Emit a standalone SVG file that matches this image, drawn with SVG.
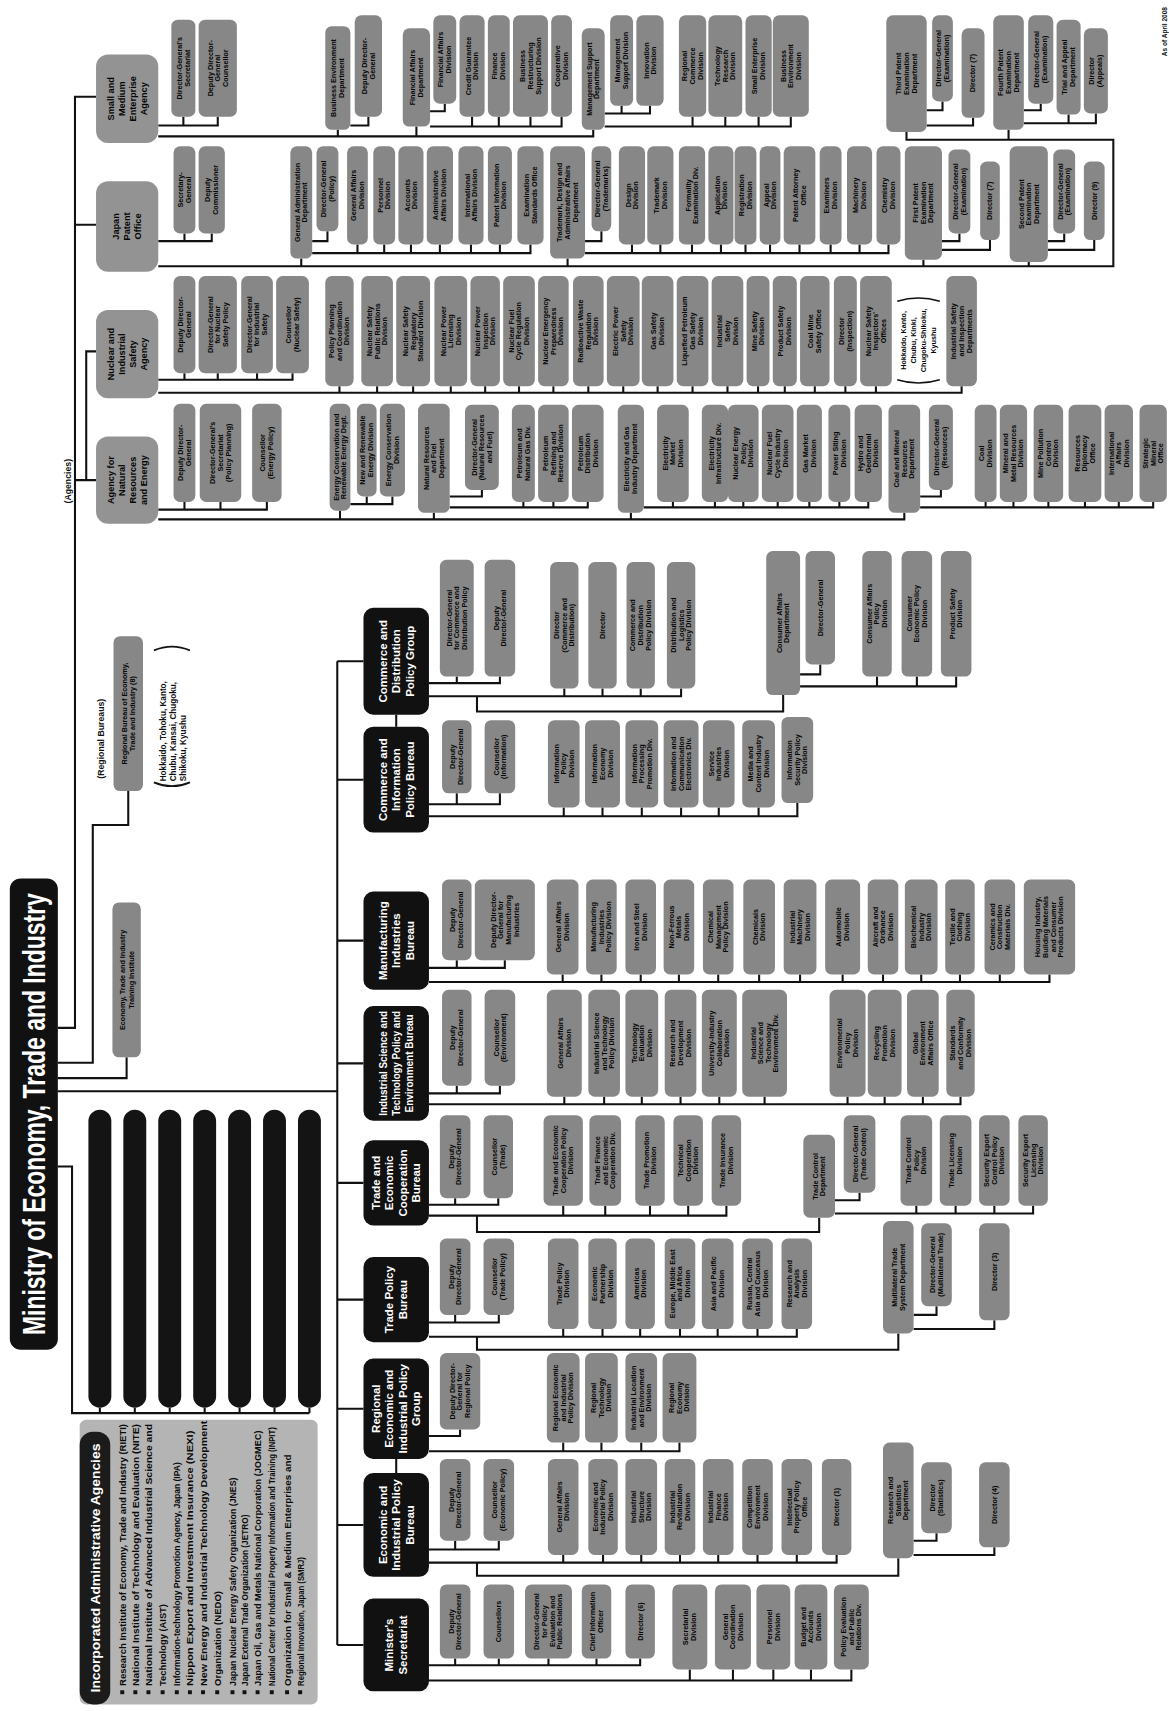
<svg xmlns="http://www.w3.org/2000/svg" width="1169" height="1711" viewBox="0 0 1169 1711">
<style>
.ln{fill:none;stroke:#111;stroke-width:1.9}
.gb{fill:#878787;rx:6px}
.ab{fill:#939393;rx:11px}
.bb{fill:#111;rx:9px}
.pill{fill:#141414;rx:10.5px}
text{font-family:"Liberation Sans Narrow","Liberation Sans",Arial,sans-serif;font-weight:bold}
.t{font-size:6.6px;fill:#050505;text-anchor:middle}
.ta{font-size:8.4px;fill:#050505;text-anchor:middle}
.tb{font-size:10.5px;fill:#fff;text-anchor:middle}
.ti{font-size:9px;fill:#0a0a0a}
</style>
<rect width="1169" height="1711" fill="#fff"/>
<g transform="scale(1.0915 1.0912)">

<g id="connectors" class="ln">
<path d="M53,942 H68.7 V88.6 H88 M68.7,206 H88 M68.7,440 H88 M79,440 V322 H88"/>
<path d="M53,974 H85 V756 H117.5 V725 M53,988 H116 V969 M53,1000 H309 M309,606 V1507.5"/>
<path d="M309,606 H333 M309,714.5 H333 M309,862 H333 M309,974.5 H333 M309,1084 H333 M309,1191 H333 M309,1291 H333 M309,1397.5 H333 M309,1507.5 H333 M363,655 V666 M363,1337 V1350"/>
<path d="M53,1069 H66 V1295 H283.5 M91.5,1290 V1295 M123.5,1290 V1295 M155.5,1290 V1295 M187.5,1290 V1295 M219.5,1290 V1295 M251.5,1290 V1295 M283.5,1290 V1295"/>
<path d="M145,115 H199.5 V107 M168,107 V115 M145,125 H543.5 V119 M309.5,119 V125 M381.5,116 V125 M321,115 H337.5 V107 M394,102 H407.5 V95 M394,116 H514.5 V107 M432.5,107 V116 M457,107 V116 M486,107 V116 M554,104 H595.5 V97 M569.5,97 V104 M554,116 H724.5 V107 M634.5,107 V116 M664.5,107 V116 M695,107 V116"/>
<path d="M145,221 H194 V214 M169,214 V221 M145,244 H1020 V128 H830.5 V121 M924,119 V128 M276,237 V244 M520,237 V244 M846,238 V244 M942.5,240 V244 M286,221 H300 V212 M286,232 H486 V224 M327.5,224 V232 M352,224 V232 M376.5,224 V232 M403,224 V232 M431.5,224 V232 M458,224 V232 M536,221 H551 V212 M536,232 H814 V224 M579,224 V232 M605,224 V232 M634,224 V232 M660.5,224 V232 M683,224 V232 M705.5,224 V232 M732.5,224 V232 M761,224 V232 M787.5,224 V232 M863,221 H879 V214 M863,229 H907 V220 M960,221 H975 V214 M960,229 H1002.5 V220 M849,101 H863.5 V93 M849,115 H891.5 V108 M938,101 H953.5 V95 M938,113 H1004 V104 M979,105 V113"/>
<path d="M145,348 H268 V342 M169,342 V348 M199.5,342 V348 M235.5,342 V348 M145,360 H881 V354 M311,354 V360 M345.5,354 V360 M378.5,354 V360 M413,354 V360 M444.5,354 V360 M475.5,354 V360 M507,354 V360 M539,354 V360 M571,354 V360 M602.5,354 V360 M634.5,354 V360 M666.5,354 V360 M694.5,354 V360 M719,354 V360 M746.5,354 V360 M774.5,354 V360 M802.5,354 V360"/>
<path d="M145,467 H244.5 V460 M169,460 V467 M202,460 V467 M145,476 H828.5 V470 M311.5,468 V476 M397.5,470 V476 M578,470 V476 M321,462 H359.5 V455 M336,455 V462 M412,455 H441.5 V449 M412,465 H538.5 V460 M479.5,460 V465 M507,460 V465 M590,465 H795.5 V460 M616.5,460 V465 M655,460 V465 M681,460 V465 M712.5,460 V465 M741.5,460 V465 M769,460 V465 M843,455 H862 V449 M843,465 H1056.5 V460 M903,460 V465 M928.5,460 V465 M960.5,460 V465 M994,460 V465 M1025,460 V465"/>
<path d="M393,626 H458 V620 M418.5,620 V626 M393,638 H624 V631 M517,631 V638 M552,631 V638 M587,631 V638 M437,638 V652 H717.5 V637 M733,618 H751.5 V609 M733,629 H876 V620 M803.5,620 V629 M840,620 V629"/>
<path d="M393,737 H458 V727 M418.5,727 V737 M393,748 H730.5 V736 M516.5,740 V748 M552,740 V748 M588,740 V748 M624,740 V748 M658.5,740 V748 M695,740 V748"/>
<path d="M393,887 H462.5 V880 M418.5,880 V887 M393,900 H961.5 V893 M515.5,893 V900 M551,893 V900 M587,893 V900 M622,893 V900 M658,893 V900 M695.5,893 V900 M733,893 V900 M772,893 V900 M809,893 V900 M844,893 V900 M879.5,893 V900 M916,893 V900"/>
<path d="M393,1002 H458 V995 M418.5,995 V1002 M393,1012 H880 V1005 M517,1005 V1012 M553.5,1005 V1012 M588,1005 V1012 M623.5,1005 V1012 M659,1005 V1012 M700.5,1005 V1012 M776.5,1005 V1012 M810.5,1005 V1012 M845.5,1005 V1012"/>
<path d="M393,1104 H456.5 V1098 M417,1098 V1104 M393,1114 H665.5 V1105 M516,1105 V1114 M554.5,1105 V1114 M595.5,1105 V1114 M630.5,1105 V1114 M437,1114 V1129 H750.5 V1116 M765,1100 H787.5 V1093 M765,1112 H946.5 V1105 M839.5,1105 V1112 M875.5,1105 V1112 M911,1105 V1112"/>
<path d="M393,1212 H457 V1205 M417,1205 V1212 M393,1225 H730 V1218 M516,1218 V1225 M552,1218 V1225 M586.5,1218 V1225 M623,1218 V1225 M657.5,1218 V1225 M694,1218 V1225 M437,1225 V1237 H823 V1222 M837,1205 H858 V1197 M837,1218 H911 V1210"/>
<path d="M393,1316 H421.5 V1310 M393,1330 H622.5 V1322 M516,1322 V1330 M551,1322 V1330 M587.5,1322 V1330"/>
<path d="M393,1420 H457 V1412 M417,1412 V1420 M393,1432 H766.5 V1425 M516,1425 V1432 M552.5,1425 V1432 M587.5,1425 V1432 M623,1425 V1432 M658,1425 V1432 M694,1425 V1432 M730,1425 V1432 M437,1432 V1444 H823 V1428 M837,1412 H858 V1405 M837,1425 H911 V1418"/>
<path d="M393,1526 H586.5 V1520 M417,1520 V1526 M457,1520 V1526 M502.5,1520 V1526 M546.5,1520 V1526 M393,1540 H780 V1530 M632,1530 V1540 M671.5,1530 V1540 M708.5,1530 V1540 M743,1530 V1540"/>
</g>

<g id="title"><rect x="9" y="805" width="44" height="432" rx="10" fill="#111"/><text transform="translate(31 1021) rotate(-90)" x="0" y="10" font-size="29" fill="#fff" text-anchor="middle" textLength="405" lengthAdjust="spacingAndGlyphs">Ministry of Economy, Trade and Industry</text></g>

<g id="officials">
<rect class="pill" x="81" y="1017" width="21" height="273"/>
<rect class="pill" x="113" y="1017" width="21" height="273"/>
<rect class="pill" x="145" y="1017" width="21" height="273"/>
<rect class="pill" x="177" y="1017" width="21" height="273"/>
<rect class="pill" x="209" y="1017" width="21" height="273"/>
<rect class="pill" x="241" y="1017" width="21" height="273"/>
<rect class="pill" x="273" y="1017" width="21" height="273"/>
</g>

<g id="iaa">
<rect x="73" y="1301" width="218" height="261" rx="6" fill="#b4b4b4"/>
<rect x="73" y="1312" width="28" height="250" rx="12" fill="#1b1b1b"/>
<text transform="translate(87 1437) rotate(-90)" y="4.5" font-size="12.5" fill="#fff" text-anchor="middle" textLength="228" lengthAdjust="spacingAndGlyphs">Incorporated Administrative Agencies</text>
<g fill="#111">
<rect x="110.2" y="1549" width="3.6" height="3.6"/><rect x="122.2" y="1549" width="3.6" height="3.6"/><rect x="134.2" y="1549" width="3.6" height="3.6"/><rect x="147.2" y="1549" width="3.6" height="3.6"/><rect x="160.2" y="1549" width="3.6" height="3.6"/><rect x="172.2" y="1549" width="3.6" height="3.6"/><rect x="184.2" y="1549" width="3.6" height="3.6"/><rect x="197.2" y="1549" width="3.6" height="3.6"/><rect x="211.2" y="1549" width="3.6" height="3.6"/><rect x="222.2" y="1549" width="3.6" height="3.6"/><rect x="234.2" y="1549" width="3.6" height="3.6"/><rect x="247.2" y="1549" width="3.6" height="3.6"/><rect x="261.2" y="1549" width="3.6" height="3.6"/><rect x="273.2" y="1549" width="3.6" height="3.6"/>
</g>
<text class="ti" transform="translate(115.2 1545) rotate(-90)" textLength="240" lengthAdjust="spacingAndGlyphs">Research Institute of Economy, Trade and Industry (RIETI)</text>
<text class="ti" transform="translate(127.2 1545) rotate(-90)" textLength="240" lengthAdjust="spacingAndGlyphs">National Institute of Technology and Evaluation (NITE)</text>
<text class="ti" transform="translate(139.2 1545) rotate(-90)" textLength="240" lengthAdjust="spacingAndGlyphs">National Institute of Advanced Industrial Science and</text>
<text class="ti" transform="translate(152.2 1545) rotate(-90)" textLength="75" lengthAdjust="spacingAndGlyphs">Technology (AIST)</text>
<text class="ti" transform="translate(165.2 1545) rotate(-90)" textLength="205" lengthAdjust="spacingAndGlyphs">Information-technology Promotion Agency, Japan (IPA)</text>
<text class="ti" transform="translate(177.2 1545) rotate(-90)" textLength="234" lengthAdjust="spacingAndGlyphs">Nippon Export and Investment Insurance (NEXI)</text>
<text class="ti" transform="translate(189.2 1545) rotate(-90)" textLength="243" lengthAdjust="spacingAndGlyphs">New Energy and Industrial Technology Development</text>
<text class="ti" transform="translate(202.2 1545) rotate(-90)" textLength="87" lengthAdjust="spacingAndGlyphs">Organization (NEDO)</text>
<text class="ti" transform="translate(216.2 1545) rotate(-90)" textLength="191" lengthAdjust="spacingAndGlyphs">Japan Nuclear Energy Safety Organization (JNES)</text>
<text class="ti" transform="translate(227.2 1545) rotate(-90)" textLength="157" lengthAdjust="spacingAndGlyphs">Japan External Trade Organization (JETRO)</text>
<text class="ti" transform="translate(239.2 1545) rotate(-90)" textLength="234" lengthAdjust="spacingAndGlyphs">Japan Oil, Gas and Metals National Corporation (JOGMEC)</text>
<text class="ti" transform="translate(252.2 1545) rotate(-90)" textLength="237" lengthAdjust="spacingAndGlyphs">National Center for Industrial Property Information and Training (INPIT)</text>
<text class="ti" transform="translate(266.2 1545) rotate(-90)" textLength="212" lengthAdjust="spacingAndGlyphs">Organization for Small &amp; Medium Enterprises and</text>
<text class="ti" transform="translate(278.2 1545) rotate(-90)" textLength="118" lengthAdjust="spacingAndGlyphs">Regional Innovation, Japan (SMRJ)</text>
</g>

<g id="regional-bureaus"><rect class="gb" x="104" y="583" width="27" height="142"/><text class="t" font-size="7" transform="translate(117.5 654) rotate(-90)"><tspan x="0" y="-1.5">Regional Bureau of Economy,</tspan><tspan x="0" y="6.5">Trade and Industry (8)</tspan></text></g>
<text transform="translate(92 677) rotate(-90)" y="3" font-size="8" fill="#111" text-anchor="middle">(Regional Bureaus)</text>
<g id="regional-list">
<path d="M141,596 Q157.5,589 174,596 M141,717 Q157.5,724 174,717" fill="none" stroke="#111" stroke-width="1.6"/>
<text transform="translate(152 716) rotate(-90)" font-size="7.5" fill="#111"><tspan x="0" y="0">Hokkaido, Tohoku, Kanto,</tspan><tspan x="0" y="9">Chubu, Kansai, Chugoku,</tspan><tspan x="0" y="18">Shikoku, Kyushu</tspan></text>
</g>
<g id="training-institute"><rect class="gb" x="103" y="827" width="26" height="142"/><text class="t" font-size="7" transform="translate(116 898) rotate(-90)"><tspan x="0" y="-1.5">Economy, Trade and Industry</tspan><tspan x="0" y="6.5">Training Institute</tspan></text></g>
<text transform="translate(62 441) rotate(-90)" y="3" font-size="8" fill="#111" text-anchor="middle">(Agencies)</text>
<text transform="translate(1067 29) rotate(-90)" y="2" font-size="6" fill="#111" text-anchor="middle">As of April 2008</text>

<g id="agency-smea"><rect class="ab" x="88" y="50" width="57" height="81"/><text class="ta" transform="translate(116.5 90.5) rotate(-90)"><tspan x="0" y="-12.2">Small and</tspan><tspan x="0" y="-2.2">Medium</tspan><tspan x="0" y="7.8">Enterprise</tspan><tspan x="0" y="17.8">Agency</tspan></text></g>
<g id="agency-jpo"><rect class="ab" x="88" y="166" width="57" height="83"/><text class="ta" transform="translate(116.5 207.5) rotate(-90)"><tspan x="0" y="-7.2">Japan</tspan><tspan x="0" y="2.8">Patent</tspan><tspan x="0" y="12.8">Office</tspan></text></g>
<g id="agency-nisa"><rect class="ab" x="88" y="284" width="57" height="81"/><text class="ta" transform="translate(116.5 324.5) rotate(-90)"><tspan x="0" y="-12.2">Nuclear and</tspan><tspan x="0" y="-2.2">Industrial</tspan><tspan x="0" y="7.8">Safety</tspan><tspan x="0" y="17.8">Agency</tspan></text></g>
<g id="agency-anre"><rect class="ab" x="88" y="400" width="57" height="80"/><text class="ta" transform="translate(116.5 440) rotate(-90)"><tspan x="0" y="-12.2">Agency for</tspan><tspan x="0" y="-2.2">Natural</tspan><tspan x="0" y="7.8">Resources</tspan><tspan x="0" y="17.8">and Energy</tspan></text></g>

<g id="s1"><rect class="gb" x="157" y="18" width="22" height="89"/><text class="t" transform="translate(168 62.5) rotate(-90)"><tspan x="0" y="-1.3">Director-General's</tspan><tspan x="0" y="5.7">Secretariat</tspan></text></g>
<g id="s2"><rect class="gb" x="182" y="18" width="35" height="89"/><text class="t" transform="translate(199.5 62.5) rotate(-90)"><tspan x="0" y="-4.8">Deputy Director-</tspan><tspan x="0" y="2.2">General</tspan><tspan x="0" y="9.2">Counsellor</tspan></text></g>
<g id="sd1"><rect class="gb" x="298" y="24" width="23" height="95"/><text class="t" transform="translate(309.5 71.5) rotate(-90)"><tspan x="0" y="-1.3">Business Environment</tspan><tspan x="0" y="5.7">Department</tspan></text></g>
<g id="s3"><rect class="gb" x="325" y="14" width="25" height="93"/><text class="t" transform="translate(337.5 60.5) rotate(-90)"><tspan x="0" y="-1.3">Deputy Director-</tspan><tspan x="0" y="5.7">General</tspan></text></g>
<g id="sd2"><rect class="gb" x="369" y="26" width="25" height="90"/><text class="t" transform="translate(381.5 71) rotate(-90)"><tspan x="0" y="-1.3">Financial Affairs</tspan><tspan x="0" y="5.7">Department</tspan></text></g>
<g id="s4"><rect class="gb" x="397" y="14" width="21" height="81"/><text class="t" transform="translate(407.5 54.5) rotate(-90)"><tspan x="0" y="-1.3">Financial Affairs</tspan><tspan x="0" y="5.7">Division</tspan></text></g>
<g id="s5"><rect class="gb" x="421" y="14" width="23" height="93"/><text class="t" transform="translate(432.5 60.5) rotate(-90)"><tspan x="0" y="-1.3">Credit Guarantee</tspan><tspan x="0" y="5.7">Division</tspan></text></g>
<g id="s6"><rect class="gb" x="447" y="14" width="20" height="93"/><text class="t" transform="translate(457 60.5) rotate(-90)"><tspan x="0" y="-1.3">Finance</tspan><tspan x="0" y="5.7">Division</tspan></text></g>
<g id="s7"><rect class="gb" x="470" y="14" width="32" height="93"/><text class="t" transform="translate(486 60.5) rotate(-90)"><tspan x="0" y="-4.8">Business</tspan><tspan x="0" y="2.2">Restructuring</tspan><tspan x="0" y="9.2">Support Division</tspan></text></g>
<g id="s8"><rect class="gb" x="505" y="14" width="19" height="93"/><text class="t" transform="translate(514.5 60.5) rotate(-90)"><tspan x="0" y="-1.3">Cooperative</tspan><tspan x="0" y="5.7">Division</tspan></text></g>
<g id="sd3"><rect class="gb" x="533" y="26" width="21" height="93"/><text class="t" transform="translate(543.5 72.5) rotate(-90)"><tspan x="0" y="-1.3">Management Support</tspan><tspan x="0" y="5.7">Department</tspan></text></g>
<g id="s9"><rect class="gb" x="559" y="14" width="21" height="83"/><text class="t" transform="translate(569.5 55.5) rotate(-90)"><tspan x="0" y="-1.3">Management</tspan><tspan x="0" y="5.7">Support Division</tspan></text></g>
<g id="s10"><rect class="gb" x="583" y="14" width="25" height="83"/><text class="t" transform="translate(595.5 55.5) rotate(-90)"><tspan x="0" y="-1.3">Innovation</tspan><tspan x="0" y="5.7">Division</tspan></text></g>
<g id="s11"><rect class="gb" x="622" y="14" width="25" height="93"/><text class="t" transform="translate(634.5 60.5) rotate(-90)"><tspan x="0" y="-4.8">Regional</tspan><tspan x="0" y="2.2">Commerce</tspan><tspan x="0" y="9.2">Division</tspan></text></g>
<g id="s12"><rect class="gb" x="649" y="14" width="31" height="93"/><text class="t" transform="translate(664.5 60.5) rotate(-90)"><tspan x="0" y="-4.8">Technology</tspan><tspan x="0" y="2.2">Research</tspan><tspan x="0" y="9.2">Division</tspan></text></g>
<g id="s13"><rect class="gb" x="683" y="14" width="24" height="93"/><text class="t" transform="translate(695 60.5) rotate(-90)"><tspan x="0" y="-1.3">Small Enterprise</tspan><tspan x="0" y="5.7">Division</tspan></text></g>
<g id="s14"><rect class="gb" x="708" y="14" width="33" height="93"/><text class="t" transform="translate(724.5 60.5) rotate(-90)"><tspan x="0" y="-4.8">Business</tspan><tspan x="0" y="2.2">Environment</tspan><tspan x="0" y="9.2">Division</tspan></text></g>

<g id="p1"><rect class="gb" x="159" y="134" width="20" height="80"/><text class="t" transform="translate(169 174) rotate(-90)"><tspan x="0" y="-1.3">Secretary-</tspan><tspan x="0" y="5.7">General</tspan></text></g>
<g id="p2"><rect class="gb" x="182" y="134" width="24" height="80"/><text class="t" transform="translate(194 174) rotate(-90)"><tspan x="0" y="-1.3">Deputy</tspan><tspan x="0" y="5.7">Commissioner</tspan></text></g>
<g id="pd1"><rect class="gb" x="266" y="134" width="20" height="103"/><text class="t" transform="translate(276 185.5) rotate(-90)"><tspan x="0" y="-1.3">General Administration</tspan><tspan x="0" y="5.7">Department</tspan></text></g>
<g id="p3"><rect class="gb" x="290" y="134" width="20" height="78"/><text class="t" transform="translate(300 173) rotate(-90)"><tspan x="0" y="-1.3">Director-General</tspan><tspan x="0" y="5.7">(Policy)</tspan></text></g>
<g id="p4"><rect class="gb" x="318" y="134" width="19" height="90"/><text class="t" transform="translate(327.5 179) rotate(-90)"><tspan x="0" y="-1.3">General Affairs</tspan><tspan x="0" y="5.7">Division</tspan></text></g>
<g id="p5"><rect class="gb" x="342" y="134" width="20" height="90"/><text class="t" transform="translate(352 179) rotate(-90)"><tspan x="0" y="-1.3">Personnel</tspan><tspan x="0" y="5.7">Division</tspan></text></g>
<g id="p6"><rect class="gb" x="365" y="134" width="23" height="90"/><text class="t" transform="translate(376.5 179) rotate(-90)"><tspan x="0" y="-1.3">Accounts</tspan><tspan x="0" y="5.7">Division</tspan></text></g>
<g id="p7"><rect class="gb" x="391" y="134" width="24" height="90"/><text class="t" transform="translate(403 179) rotate(-90)"><tspan x="0" y="-1.3">Administrative</tspan><tspan x="0" y="5.7">Affairs Division</tspan></text></g>
<g id="p8"><rect class="gb" x="420" y="134" width="23" height="90"/><text class="t" transform="translate(431.5 179) rotate(-90)"><tspan x="0" y="-1.3">International</tspan><tspan x="0" y="5.7">Affairs Division</tspan></text></g>
<g id="p9"><rect class="gb" x="447" y="134" width="22" height="90"/><text class="t" transform="translate(458 179) rotate(-90)"><tspan x="0" y="-1.3">Patent Information</tspan><tspan x="0" y="5.7">Division</tspan></text></g>
<g id="p10"><rect class="gb" x="474" y="134" width="24" height="90"/><text class="t" transform="translate(486 179) rotate(-90)"><tspan x="0" y="-1.3">Examination</tspan><tspan x="0" y="5.7">Standards Office</tspan></text></g>
<g id="pd2"><rect class="gb" x="504" y="134" width="32" height="103"/><text class="t" transform="translate(520 185.5) rotate(-90)"><tspan x="0" y="-4.8">Trademark, Design and</tspan><tspan x="0" y="2.2">Administrative Affairs</tspan><tspan x="0" y="9.2">Department</tspan></text></g>
<g id="p11"><rect class="gb" x="542" y="134" width="18" height="78"/><text class="t" transform="translate(551 173) rotate(-90)"><tspan x="0" y="-1.3">Director-General</tspan><tspan x="0" y="5.7">(Trademarks)</tspan></text></g>
<g id="p12"><rect class="gb" x="567" y="134" width="24" height="90"/><text class="t" transform="translate(579 179) rotate(-90)"><tspan x="0" y="-1.3">Design</tspan><tspan x="0" y="5.7">Division</tspan></text></g>
<g id="p13"><rect class="gb" x="593" y="134" width="24" height="90"/><text class="t" transform="translate(605 179) rotate(-90)"><tspan x="0" y="-1.3">Trademark</tspan><tspan x="0" y="5.7">Division</tspan></text></g>
<g id="p14"><rect class="gb" x="622" y="134" width="24" height="90"/><text class="t" transform="translate(634 179) rotate(-90)"><tspan x="0" y="-1.3">Formality</tspan><tspan x="0" y="5.7">Examination Div.</tspan></text></g>
<g id="p15"><rect class="gb" x="649" y="134" width="23" height="90"/><text class="t" transform="translate(660.5 179) rotate(-90)"><tspan x="0" y="-1.3">Application</tspan><tspan x="0" y="5.7">Division</tspan></text></g>
<g id="p16"><rect class="gb" x="673" y="134" width="20" height="90"/><text class="t" transform="translate(683 179) rotate(-90)"><tspan x="0" y="-1.3">Registration</tspan><tspan x="0" y="5.7">Division</tspan></text></g>
<g id="p17"><rect class="gb" x="696" y="134" width="19" height="90"/><text class="t" transform="translate(705.5 179) rotate(-90)"><tspan x="0" y="-1.3">Appeal</tspan><tspan x="0" y="5.7">Division</tspan></text></g>
<g id="p18"><rect class="gb" x="718" y="134" width="29" height="90"/><text class="t" transform="translate(732.5 179) rotate(-90)"><tspan x="0" y="-1.3">Patent Attorney</tspan><tspan x="0" y="5.7">Office</tspan></text></g>
<g id="p19"><rect class="gb" x="751" y="134" width="20" height="90"/><text class="t" transform="translate(761 179) rotate(-90)"><tspan x="0" y="-1.3">Examiners</tspan><tspan x="0" y="5.7">Division</tspan></text></g>
<g id="p20"><rect class="gb" x="776" y="134" width="23" height="90"/><text class="t" transform="translate(787.5 179) rotate(-90)"><tspan x="0" y="-1.3">Machinery</tspan><tspan x="0" y="5.7">Division</tspan></text></g>
<g id="p21"><rect class="gb" x="803" y="134" width="22" height="90"/><text class="t" transform="translate(814 179) rotate(-90)"><tspan x="0" y="-1.3">Chemistry</tspan><tspan x="0" y="5.7">Division</tspan></text></g>
<g id="pd3"><rect class="gb" x="829" y="134" width="34" height="104"/><text class="t" transform="translate(846 186) rotate(-90)"><tspan x="0" y="-4.8">First Patent</tspan><tspan x="0" y="2.2">Examination</tspan><tspan x="0" y="9.2">Department</tspan></text></g>
<g id="p22"><rect class="gb" x="869" y="137" width="20" height="77"/><text class="t" transform="translate(879 175.5) rotate(-90)"><tspan x="0" y="-1.3">Director-General</tspan><tspan x="0" y="5.7">(Examination)</tspan></text></g>
<g id="p23"><rect class="gb" x="898" y="148" width="18" height="72"/><text class="t" transform="translate(907 184) rotate(-90)"><tspan x="0" y="2.2">Director (7)</tspan></text></g>
<g id="pd4"><rect class="gb" x="925" y="134" width="35" height="106"/><text class="t" transform="translate(942.5 187) rotate(-90)"><tspan x="0" y="-4.8">Second Patent</tspan><tspan x="0" y="2.2">Examination</tspan><tspan x="0" y="9.2">Department</tspan></text></g>
<g id="p24"><rect class="gb" x="965" y="137" width="20" height="77"/><text class="t" transform="translate(975 175.5) rotate(-90)"><tspan x="0" y="-1.3">Director-General</tspan><tspan x="0" y="5.7">(Examination)</tspan></text></g>
<g id="p25"><rect class="gb" x="993" y="148" width="19" height="72"/><text class="t" transform="translate(1002.5 184) rotate(-90)"><tspan x="0" y="2.2">Director (9)</tspan></text></g>
<g id="pd5"><rect class="gb" x="812" y="14" width="37" height="107"/><text class="t" transform="translate(830.5 67.5) rotate(-90)"><tspan x="0" y="-4.8">Third Patent</tspan><tspan x="0" y="2.2">Examination</tspan><tspan x="0" y="9.2">Department</tspan></text></g>
<g id="p26"><rect class="gb" x="854" y="14" width="19" height="79"/><text class="t" transform="translate(863.5 53.5) rotate(-90)"><tspan x="0" y="-1.3">Director-General</tspan><tspan x="0" y="5.7">(Examination)</tspan></text></g>
<g id="p27"><rect class="gb" x="881" y="26" width="21" height="82"/><text class="t" transform="translate(891.5 67) rotate(-90)"><tspan x="0" y="2.2">Director (7)</tspan></text></g>
<g id="pd6"><rect class="gb" x="910" y="14" width="28" height="105"/><text class="t" transform="translate(924 66.5) rotate(-90)"><tspan x="0" y="-4.8">Fourth Patent</tspan><tspan x="0" y="2.2">Examination</tspan><tspan x="0" y="9.2">Department</tspan></text></g>
<g id="p28"><rect class="gb" x="942" y="14" width="23" height="81"/><text class="t" transform="translate(953.5 54.5) rotate(-90)"><tspan x="0" y="-1.3">Director-General</tspan><tspan x="0" y="5.7">(Examination)</tspan></text></g>
<g id="p29"><rect class="gb" x="968" y="18" width="22" height="87"/><text class="t" transform="translate(979 61.5) rotate(-90)"><tspan x="0" y="-1.3">Trial and Appeal</tspan><tspan x="0" y="5.7">Department</tspan></text></g>
<g id="p30"><rect class="gb" x="993" y="26" width="22" height="78"/><text class="t" transform="translate(1004 65) rotate(-90)"><tspan x="0" y="-1.3">Director</tspan><tspan x="0" y="5.7">(Appeals)</tspan></text></g>

<g id="n1"><rect class="gb" x="159" y="253" width="20" height="89"/><text class="t" transform="translate(169 297.5) rotate(-90)"><tspan x="0" y="-1.3">Deputy Director-</tspan><tspan x="0" y="5.7">General</tspan></text></g>
<g id="n2"><rect class="gb" x="182" y="253" width="35" height="89"/><text class="t" transform="translate(199.5 297.5) rotate(-90)"><tspan x="0" y="-4.8">Director-General</tspan><tspan x="0" y="2.2">for Nuclear</tspan><tspan x="0" y="9.2">Safety Policy</tspan></text></g>
<g id="n3"><rect class="gb" x="221" y="253" width="29" height="89"/><text class="t" transform="translate(235.5 297.5) rotate(-90)"><tspan x="0" y="-4.8">Director-General</tspan><tspan x="0" y="2.2">for Industrial</tspan><tspan x="0" y="9.2">Safety</tspan></text></g>
<g id="n4"><rect class="gb" x="253" y="253" width="30" height="89"/><text class="t" transform="translate(268 297.5) rotate(-90)"><tspan x="0" y="-1.3">Counsellor</tspan><tspan x="0" y="5.7">(Nuclear Safety)</tspan></text></g>
<g id="n5"><rect class="gb" x="298" y="253" width="26" height="101"/><text class="t" transform="translate(311 303.5) rotate(-90)"><tspan x="0" y="-4.8">Policy Planning</tspan><tspan x="0" y="2.2">and Coordination</tspan><tspan x="0" y="9.2">Division</tspan></text></g>
<g id="n6"><rect class="gb" x="331" y="253" width="29" height="101"/><text class="t" transform="translate(345.5 303.5) rotate(-90)"><tspan x="0" y="-4.8">Nuclear Safety</tspan><tspan x="0" y="2.2">Public Relations</tspan><tspan x="0" y="9.2">Division</tspan></text></g>
<g id="n7"><rect class="gb" x="363" y="253" width="31" height="101"/><text class="t" transform="translate(378.5 303.5) rotate(-90)"><tspan x="0" y="-4.8">Nuclear Safety</tspan><tspan x="0" y="2.2">Regulatory</tspan><tspan x="0" y="9.2">Standard Division</tspan></text></g>
<g id="n8"><rect class="gb" x="398" y="253" width="30" height="101"/><text class="t" transform="translate(413 303.5) rotate(-90)"><tspan x="0" y="-4.8">Nuclear Power</tspan><tspan x="0" y="2.2">Licensing</tspan><tspan x="0" y="9.2">Division</tspan></text></g>
<g id="n9"><rect class="gb" x="431" y="253" width="27" height="101"/><text class="t" transform="translate(444.5 303.5) rotate(-90)"><tspan x="0" y="-4.8">Nuclear Power</tspan><tspan x="0" y="2.2">Inspection</tspan><tspan x="0" y="9.2">Division</tspan></text></g>
<g id="n10"><rect class="gb" x="461" y="253" width="29" height="101"/><text class="t" transform="translate(475.5 303.5) rotate(-90)"><tspan x="0" y="-4.8">Nuclear Fuel</tspan><tspan x="0" y="2.2">Cycle Regulation</tspan><tspan x="0" y="9.2">Division</tspan></text></g>
<g id="n11"><rect class="gb" x="493" y="253" width="28" height="101"/><text class="t" transform="translate(507 303.5) rotate(-90)"><tspan x="0" y="-4.8">Nuclear Emergency</tspan><tspan x="0" y="2.2">Preparedness</tspan><tspan x="0" y="9.2">Division</tspan></text></g>
<g id="n12"><rect class="gb" x="525" y="253" width="28" height="101"/><text class="t" transform="translate(539 303.5) rotate(-90)"><tspan x="0" y="-4.8">Radioactive Waste</tspan><tspan x="0" y="2.2">Regulation</tspan><tspan x="0" y="9.2">Division</tspan></text></g>
<g id="n13"><rect class="gb" x="556" y="253" width="30" height="101"/><text class="t" transform="translate(571 303.5) rotate(-90)"><tspan x="0" y="-4.8">Electric Power</tspan><tspan x="0" y="2.2">Safety</tspan><tspan x="0" y="9.2">Division</tspan></text></g>
<g id="n14"><rect class="gb" x="588" y="253" width="29" height="101"/><text class="t" transform="translate(602.5 303.5) rotate(-90)"><tspan x="0" y="-1.3">Gas Safety</tspan><tspan x="0" y="5.7">Division</tspan></text></g>
<g id="n15"><rect class="gb" x="620" y="253" width="29" height="101"/><text class="t" transform="translate(634.5 303.5) rotate(-90)"><tspan x="0" y="-4.8">Liquefied Petroleum</tspan><tspan x="0" y="2.2">Gas Safety</tspan><tspan x="0" y="9.2">Division</tspan></text></g>
<g id="n16"><rect class="gb" x="652" y="253" width="29" height="101"/><text class="t" transform="translate(666.5 303.5) rotate(-90)"><tspan x="0" y="-4.8">Industrial</tspan><tspan x="0" y="2.2">Safety</tspan><tspan x="0" y="9.2">Division</tspan></text></g>
<g id="n17"><rect class="gb" x="684" y="253" width="21" height="101"/><text class="t" transform="translate(694.5 303.5) rotate(-90)"><tspan x="0" y="-1.3">Mine Safety</tspan><tspan x="0" y="5.7">Division</tspan></text></g>
<g id="n18"><rect class="gb" x="708" y="253" width="22" height="101"/><text class="t" transform="translate(719 303.5) rotate(-90)"><tspan x="0" y="-1.3">Product Safety</tspan><tspan x="0" y="5.7">Division</tspan></text></g>
<g id="n19"><rect class="gb" x="733" y="253" width="27" height="101"/><text class="t" transform="translate(746.5 303.5) rotate(-90)"><tspan x="0" y="-1.3">Coal Mine</tspan><tspan x="0" y="5.7">Safety Office</tspan></text></g>
<g id="n20"><rect class="gb" x="764" y="253" width="21" height="101"/><text class="t" transform="translate(774.5 303.5) rotate(-90)"><tspan x="0" y="-1.3">Director</tspan><tspan x="0" y="5.7">(Inspection)</tspan></text></g>
<g id="n21"><rect class="gb" x="788" y="253" width="29" height="101"/><text class="t" transform="translate(802.5 303.5) rotate(-90)"><tspan x="0" y="-4.8">Nuclear Safety</tspan><tspan x="0" y="2.2">Inspectors'</tspan><tspan x="0" y="9.2">Offices</tspan></text></g>
<g id="n-note"><path d="M822,276 Q841.5,270 861,276 M822,348 Q841.5,354 861,348" fill="none" stroke="#111" stroke-width="1.4"/><text class="t" font-size="6.5" transform="translate(841.5 312) rotate(-90)"><tspan x="0" y="-11.3">Hokkaido, Kanto,</tspan><tspan x="0" y="-2.3">Chubu, Kinki,</tspan><tspan x="0" y="6.7">Chugoku-Shikoku,</tspan><tspan x="0" y="15.7">Kyushu</tspan></text></g>
<g id="n22"><rect class="gb" x="867" y="253" width="28" height="101"/><text class="t" transform="translate(881 303.5) rotate(-90)"><tspan x="0" y="-4.8">Industrial Safety</tspan><tspan x="0" y="2.2">and Inspection</tspan><tspan x="0" y="9.2">Departments</tspan></text></g>

<g id="e1"><rect class="gb" x="159" y="370" width="20" height="90"/><text class="t" transform="translate(169 415) rotate(-90)"><tspan x="0" y="-1.3">Deputy Director-</tspan><tspan x="0" y="5.7">General</tspan></text></g>
<g id="e2"><rect class="gb" x="183" y="370" width="38" height="90"/><text class="t" transform="translate(202 415) rotate(-90)"><tspan x="0" y="-4.8">Director-General's</tspan><tspan x="0" y="2.2">Secretariat</tspan><tspan x="0" y="9.2">(Policy Planning)</tspan></text></g>
<g id="e3"><rect class="gb" x="231" y="370" width="27" height="90"/><text class="t" transform="translate(244.5 415) rotate(-90)"><tspan x="0" y="-1.3">Counsellor</tspan><tspan x="0" y="5.7">(Energy Policy)</tspan></text></g>
<g id="ed1"><rect class="gb" x="302" y="370" width="19" height="98"/><text class="t" transform="translate(311.5 419) rotate(-90)"><tspan x="0" y="-1.3">Energy Conservation and</tspan><tspan x="0" y="5.7">Renewable Energy Dept.</tspan></text></g>
<g id="e4"><rect class="gb" x="327" y="370" width="18" height="85"/><text class="t" transform="translate(336 412.5) rotate(-90)"><tspan x="0" y="-1.3">New and Renewable</tspan><tspan x="0" y="5.7">Energy Division</tspan></text></g>
<g id="e5"><rect class="gb" x="348" y="370" width="23" height="85"/><text class="t" transform="translate(359.5 412.5) rotate(-90)"><tspan x="0" y="-1.3">Energy Conservation</tspan><tspan x="0" y="5.7">Division</tspan></text></g>
<g id="ed2"><rect class="gb" x="383" y="370" width="29" height="100"/><text class="t" transform="translate(397.5 420) rotate(-90)"><tspan x="0" y="-4.8">Natural Resources</tspan><tspan x="0" y="2.2">and Fuel</tspan><tspan x="0" y="9.2">Department</tspan></text></g>
<g id="e6"><rect class="gb" x="426" y="371" width="31" height="78"/><text class="t" transform="translate(441.5 410) rotate(-90)"><tspan x="0" y="-4.8">Director-General</tspan><tspan x="0" y="2.2">(Natural Resources</tspan><tspan x="0" y="9.2">and Fuel)</tspan></text></g>
<g id="e7"><rect class="gb" x="469" y="371" width="21" height="89"/><text class="t" transform="translate(479.5 415.5) rotate(-90)"><tspan x="0" y="-1.3">Petroleum and</tspan><tspan x="0" y="5.7">Natural Gas Div.</tspan></text></g>
<g id="e8"><rect class="gb" x="493" y="371" width="28" height="89"/><text class="t" transform="translate(507 415.5) rotate(-90)"><tspan x="0" y="-4.8">Petroleum</tspan><tspan x="0" y="2.2">Refining and</tspan><tspan x="0" y="9.2">Reserve Division</tspan></text></g>
<g id="e9"><rect class="gb" x="524" y="371" width="29" height="89"/><text class="t" transform="translate(538.5 415.5) rotate(-90)"><tspan x="0" y="-4.8">Petroleum</tspan><tspan x="0" y="2.2">Distribution</tspan><tspan x="0" y="9.2">Division</tspan></text></g>
<g id="ed3"><rect class="gb" x="566" y="371" width="24" height="99"/><text class="t" transform="translate(578 420.5) rotate(-90)"><tspan x="0" y="-1.3">Electricity and Gas</tspan><tspan x="0" y="5.7">Industry Department</tspan></text></g>
<g id="e10"><rect class="gb" x="602" y="371" width="29" height="89"/><text class="t" transform="translate(616.5 415.5) rotate(-90)"><tspan x="0" y="-4.8">Electricity</tspan><tspan x="0" y="2.2">Market</tspan><tspan x="0" y="9.2">Division</tspan></text></g>
<g id="e11"><rect class="gb" x="643" y="371" width="24" height="89"/><text class="t" transform="translate(655 415.5) rotate(-90)"><tspan x="0" y="-1.3">Electricity</tspan><tspan x="0" y="5.7">Infrastructure Div.</tspan></text></g>
<g id="e12"><rect class="gb" x="667" y="371" width="28" height="89"/><text class="t" transform="translate(681 415.5) rotate(-90)"><tspan x="0" y="-4.8">Nuclear Energy</tspan><tspan x="0" y="2.2">Policy</tspan><tspan x="0" y="9.2">Division</tspan></text></g>
<g id="e13"><rect class="gb" x="698" y="371" width="29" height="89"/><text class="t" transform="translate(712.5 415.5) rotate(-90)"><tspan x="0" y="-4.8">Nuclear Fuel</tspan><tspan x="0" y="2.2">Cycle Industry</tspan><tspan x="0" y="9.2">Division</tspan></text></g>
<g id="e14"><rect class="gb" x="730" y="371" width="23" height="89"/><text class="t" transform="translate(741.5 415.5) rotate(-90)"><tspan x="0" y="-1.3">Gas Market</tspan><tspan x="0" y="5.7">Division</tspan></text></g>
<g id="e15"><rect class="gb" x="759" y="371" width="20" height="89"/><text class="t" transform="translate(769 415.5) rotate(-90)"><tspan x="0" y="-1.3">Power Siting</tspan><tspan x="0" y="5.7">Division</tspan></text></g>
<g id="e16"><rect class="gb" x="783" y="371" width="25" height="89"/><text class="t" transform="translate(795.5 415.5) rotate(-90)"><tspan x="0" y="-4.8">Hydro and</tspan><tspan x="0" y="2.2">Geothermal</tspan><tspan x="0" y="9.2">Division</tspan></text></g>
<g id="ed4"><rect class="gb" x="814" y="371" width="29" height="99"/><text class="t" transform="translate(828.5 420.5) rotate(-90)"><tspan x="0" y="-4.8">Coal and Mineral</tspan><tspan x="0" y="2.2">Resources</tspan><tspan x="0" y="9.2">Department</tspan></text></g>
<g id="e17"><rect class="gb" x="851" y="371" width="22" height="78"/><text class="t" transform="translate(862 410) rotate(-90)"><tspan x="0" y="-1.3">Director-General</tspan><tspan x="0" y="5.7">(Resources)</tspan></text></g>
<g id="e18"><rect class="gb" x="893" y="371" width="20" height="89"/><text class="t" transform="translate(903 415.5) rotate(-90)"><tspan x="0" y="-1.3">Coal</tspan><tspan x="0" y="5.7">Division</tspan></text></g>
<g id="e19"><rect class="gb" x="916" y="371" width="25" height="89"/><text class="t" transform="translate(928.5 415.5) rotate(-90)"><tspan x="0" y="-4.8">Mineral and</tspan><tspan x="0" y="2.2">Metal Resources</tspan><tspan x="0" y="9.2">Division</tspan></text></g>
<g id="e20"><rect class="gb" x="947" y="371" width="27" height="89"/><text class="t" transform="translate(960.5 415.5) rotate(-90)"><tspan x="0" y="-4.8">Mine Pollution</tspan><tspan x="0" y="2.2">Control</tspan><tspan x="0" y="9.2">Division</tspan></text></g>
<g id="e21"><rect class="gb" x="979" y="371" width="30" height="89"/><text class="t" transform="translate(994 415.5) rotate(-90)"><tspan x="0" y="-4.8">Resources</tspan><tspan x="0" y="2.2">Diplomacy</tspan><tspan x="0" y="9.2">Office</tspan></text></g>
<g id="e22"><rect class="gb" x="1012" y="371" width="26" height="89"/><text class="t" transform="translate(1025 415.5) rotate(-90)"><tspan x="0" y="-4.8">International</tspan><tspan x="0" y="2.2">Affairs</tspan><tspan x="0" y="9.2">Division</tspan></text></g>
<g id="e23"><rect class="gb" x="1044" y="371" width="25" height="89"/><text class="t" transform="translate(1056.5 415.5) rotate(-90)"><tspan x="0" y="-4.8">Strategic</tspan><tspan x="0" y="2.2">Mineral</tspan><tspan x="0" y="9.2">Office</tspan></text></g>

<g id="b-cdpg"><rect class="bb" x="333" y="557" width="60" height="98"/><text class="tb" transform="translate(363 606) rotate(-90)"><tspan x="0" y="-8.8">Commerce and</tspan><tspan x="0" y="3.7">Distribution</tspan><tspan x="0" y="16.2">Policy Group</tspan></text></g>
<g id="b-cipb"><rect class="bb" x="333" y="666" width="60" height="97"/><text class="tb" transform="translate(363 714.5) rotate(-90)"><tspan x="0" y="-8.8">Commerce and</tspan><tspan x="0" y="3.7">Information</tspan><tspan x="0" y="16.2">Policy Bureau</tspan></text></g>
<g id="b-mib"><rect class="bb" x="333" y="817" width="60" height="90"/><text class="tb" transform="translate(363 862) rotate(-90)"><tspan x="0" y="-8.8">Manufacturing</tspan><tspan x="0" y="3.7">Industries</tspan><tspan x="0" y="16.2">Bureau</tspan></text></g>
<g id="b-istpe"><rect class="bb" x="333" y="922" width="60" height="105"/><text class="tb" font-size="9.5" transform="translate(363 974.5) rotate(-90)"><tspan x="0" y="-8.3" textLength="96" lengthAdjust="spacingAndGlyphs">Industrial Science and</tspan><tspan x="0" y="3.7" textLength="96" lengthAdjust="spacingAndGlyphs">Technology Policy and</tspan><tspan x="0" y="15.7" textLength="90" lengthAdjust="spacingAndGlyphs">Environment Bureau</tspan></text></g>
<g id="b-tecb"><rect class="bb" x="333" y="1045" width="60" height="78"/><text class="tb" font-size="10" transform="translate(363 1084) rotate(-90)"><tspan x="0" y="-14.5">Trade and</tspan><tspan x="0" y="-2.5">Economic</tspan><tspan x="0" y="9.5">Cooperation</tspan><tspan x="0" y="21.5">Bureau</tspan></text></g>
<g id="b-tpb"><rect class="bb" x="333" y="1152" width="60" height="78"/><text class="tb" transform="translate(363 1191) rotate(-90)"><tspan x="0" y="-2.55">Trade Policy</tspan><tspan x="0" y="9.95">Bureau</tspan></text></g>
<g id="b-reipg"><rect class="bb" x="333" y="1245" width="60" height="92"/><text class="tb" font-size="10" transform="translate(363 1291) rotate(-90)"><tspan x="0" y="-14.5">Regional</tspan><tspan x="0" y="-2.5">Economic and</tspan><tspan x="0" y="9.5" textLength="82" lengthAdjust="spacingAndGlyphs">Industrial Policy</tspan><tspan x="0" y="21.5">Group</tspan></text></g>
<g id="b-eipb"><rect class="bb" x="333" y="1350" width="60" height="95"/><text class="tb" transform="translate(363 1397.5) rotate(-90)"><tspan x="0" y="-8.8">Economic and</tspan><tspan x="0" y="3.7" textLength="84" lengthAdjust="spacingAndGlyphs">Industrial Policy</tspan><tspan x="0" y="16.2">Bureau</tspan></text></g>
<g id="b-ms"><rect class="bb" x="333" y="1465" width="60" height="85"/><text class="tb" transform="translate(363 1507.5) rotate(-90)"><tspan x="0" y="-2.55">Minister's</tspan><tspan x="0" y="9.95">Secretariat</tspan></text></g>

<g id="c1"><rect class="gb" x="403" y="513" width="31" height="107"/><text class="t" transform="translate(418.5 566.5) rotate(-90)"><tspan x="0" y="-4.8">Director-General</tspan><tspan x="0" y="2.2">for Commerce and</tspan><tspan x="0" y="9.2">Distribution Policy</tspan></text></g>
<g id="c2"><rect class="gb" x="444" y="513" width="28" height="107"/><text class="t" transform="translate(458 566.5) rotate(-90)"><tspan x="0" y="-1.3">Deputy</tspan><tspan x="0" y="5.7">Director-General</tspan></text></g>
<g id="c3"><rect class="gb" x="504" y="515" width="26" height="116"/><text class="t" transform="translate(517 573) rotate(-90)"><tspan x="0" y="-4.8">Director</tspan><tspan x="0" y="2.2">(Commerce and</tspan><tspan x="0" y="9.2">Distribution)</tspan></text></g>
<g id="c4"><rect class="gb" x="539" y="515" width="26" height="116"/><text class="t" transform="translate(552 573) rotate(-90)"><tspan x="0" y="2.2">Director</tspan></text></g>
<g id="c5"><rect class="gb" x="574" y="515" width="26" height="116"/><text class="t" transform="translate(587 573) rotate(-90)"><tspan x="0" y="-4.8">Commerce and</tspan><tspan x="0" y="2.2">Distribution</tspan><tspan x="0" y="9.2">Policy Division</tspan></text></g>
<g id="c6"><rect class="gb" x="611" y="515" width="26" height="116"/><text class="t" transform="translate(624 573) rotate(-90)"><tspan x="0" y="-4.8">Distribution and</tspan><tspan x="0" y="2.2">Logistics</tspan><tspan x="0" y="9.2">Policy Division</tspan></text></g>
<g id="cd"><rect class="gb" x="702" y="505" width="31" height="132"/><text class="t" transform="translate(717.5 571) rotate(-90)"><tspan x="0" y="-1.3">Consumer Affairs</tspan><tspan x="0" y="5.7">Department</tspan></text></g>
<g id="c7"><rect class="gb" x="738" y="505" width="27" height="104"/><text class="t" transform="translate(751.5 557) rotate(-90)"><tspan x="0" y="2.2">Director-General</tspan></text></g>
<g id="c8"><rect class="gb" x="790" y="505" width="27" height="115"/><text class="t" transform="translate(803.5 562.5) rotate(-90)"><tspan x="0" y="-4.8">Consumer Affairs</tspan><tspan x="0" y="2.2">Policy</tspan><tspan x="0" y="9.2">Division</tspan></text></g>
<g id="c9"><rect class="gb" x="826" y="505" width="28" height="115"/><text class="t" transform="translate(840 562.5) rotate(-90)"><tspan x="0" y="-4.8">Consumer</tspan><tspan x="0" y="2.2">Economic Policy</tspan><tspan x="0" y="9.2">Division</tspan></text></g>
<g id="c10"><rect class="gb" x="862" y="505" width="28" height="115"/><text class="t" transform="translate(876 562.5) rotate(-90)"><tspan x="0" y="-1.3">Product Safety</tspan><tspan x="0" y="5.7">Division</tspan></text></g>

<g id="g1"><rect class="gb" x="405" y="660" width="27" height="67"/><text class="t" transform="translate(418.5 693.5) rotate(-90)"><tspan x="0" y="-1.3">Deputy</tspan><tspan x="0" y="5.7">Director-General</tspan></text></g>
<g id="g2"><rect class="gb" x="444" y="660" width="28" height="67"/><text class="t" transform="translate(458 693.5) rotate(-90)"><tspan x="0" y="-1.3">Counsellor</tspan><tspan x="0" y="5.7">(Information)</tspan></text></g>
<g id="g3"><rect class="gb" x="502" y="660" width="29" height="80"/><text class="t" transform="translate(516.5 700) rotate(-90)"><tspan x="0" y="-4.8">Information</tspan><tspan x="0" y="2.2">Policy</tspan><tspan x="0" y="9.2">Division</tspan></text></g>
<g id="g4"><rect class="gb" x="536" y="660" width="32" height="80"/><text class="t" transform="translate(552 700) rotate(-90)"><tspan x="0" y="-4.8">Information</tspan><tspan x="0" y="2.2">Economy</tspan><tspan x="0" y="9.2">Division</tspan></text></g>
<g id="g5"><rect class="gb" x="573" y="660" width="30" height="80"/><text class="t" transform="translate(588 700) rotate(-90)"><tspan x="0" y="-4.8">Information</tspan><tspan x="0" y="2.2">Processing</tspan><tspan x="0" y="9.2">Promotion Div.</tspan></text></g>
<g id="g6"><rect class="gb" x="608" y="660" width="32" height="80"/><text class="t" transform="translate(624 700) rotate(-90)"><tspan x="0" y="-4.8">Information and</tspan><tspan x="0" y="2.2">Communication</tspan><tspan x="0" y="9.2">Electronics Div.</tspan></text></g>
<g id="g7"><rect class="gb" x="644" y="660" width="29" height="80"/><text class="t" transform="translate(658.5 700) rotate(-90)"><tspan x="0" y="-4.8">Service</tspan><tspan x="0" y="2.2">Industries</tspan><tspan x="0" y="9.2">Division</tspan></text></g>
<g id="g8"><rect class="gb" x="680" y="660" width="30" height="80"/><text class="t" transform="translate(695 700) rotate(-90)"><tspan x="0" y="-4.8">Media and</tspan><tspan x="0" y="2.2">Content Industry</tspan><tspan x="0" y="9.2">Division</tspan></text></g>
<g id="g9"><rect class="gb" x="716" y="657" width="29" height="79"/><text class="t" transform="translate(730.5 696.5) rotate(-90)"><tspan x="0" y="-4.8">Information</tspan><tspan x="0" y="2.2">Security Policy</tspan><tspan x="0" y="9.2">Division</tspan></text></g>

<g id="h1"><rect class="gb" x="405" y="806" width="27" height="74"/><text class="t" transform="translate(418.5 843) rotate(-90)"><tspan x="0" y="-1.3">Deputy</tspan><tspan x="0" y="5.7">Director-General</tspan></text></g>
<g id="h2"><rect class="gb" x="435" y="806" width="55" height="74"/><text class="t" transform="translate(462.5 843) rotate(-90)"><tspan x="0" y="-8.3">Deputy Director-</tspan><tspan x="0" y="-1.3">General for</tspan><tspan x="0" y="5.7">Manufacturing</tspan><tspan x="0" y="12.7">Industries</tspan></text></g>
<g id="h3"><rect class="gb" x="501" y="806" width="29" height="87"/><text class="t" transform="translate(515.5 849.5) rotate(-90)"><tspan x="0" y="-1.3">General Affairs</tspan><tspan x="0" y="5.7">Division</tspan></text></g>
<g id="h4"><rect class="gb" x="537" y="806" width="28" height="87"/><text class="t" transform="translate(551 849.5) rotate(-90)"><tspan x="0" y="-4.8">Manufacturing</tspan><tspan x="0" y="2.2">Industries</tspan><tspan x="0" y="9.2">Policy Division</tspan></text></g>
<g id="h5"><rect class="gb" x="573" y="806" width="28" height="87"/><text class="t" transform="translate(587 849.5) rotate(-90)"><tspan x="0" y="-1.3">Iron and Steel</tspan><tspan x="0" y="5.7">Division</tspan></text></g>
<g id="h6"><rect class="gb" x="608" y="806" width="28" height="87"/><text class="t" transform="translate(622 849.5) rotate(-90)"><tspan x="0" y="-4.8">Non-Ferrous</tspan><tspan x="0" y="2.2">Metals</tspan><tspan x="0" y="9.2">Division</tspan></text></g>
<g id="h7"><rect class="gb" x="644" y="806" width="28" height="87"/><text class="t" transform="translate(658 849.5) rotate(-90)"><tspan x="0" y="-4.8">Chemical</tspan><tspan x="0" y="2.2">Management</tspan><tspan x="0" y="9.2">Policy Division</tspan></text></g>
<g id="h8"><rect class="gb" x="681" y="806" width="29" height="87"/><text class="t" transform="translate(695.5 849.5) rotate(-90)"><tspan x="0" y="-1.3">Chemicals</tspan><tspan x="0" y="5.7">Division</tspan></text></g>
<g id="h9"><rect class="gb" x="718" y="806" width="30" height="87"/><text class="t" transform="translate(733 849.5) rotate(-90)"><tspan x="0" y="-4.8">Industrial</tspan><tspan x="0" y="2.2">Machinery</tspan><tspan x="0" y="9.2">Division</tspan></text></g>
<g id="h10"><rect class="gb" x="756" y="806" width="32" height="87"/><text class="t" transform="translate(772 849.5) rotate(-90)"><tspan x="0" y="-1.3">Automobile</tspan><tspan x="0" y="5.7">Division</tspan></text></g>
<g id="h11"><rect class="gb" x="795" y="806" width="28" height="87"/><text class="t" transform="translate(809 849.5) rotate(-90)"><tspan x="0" y="-4.8">Aircraft and</tspan><tspan x="0" y="2.2">Ordnance</tspan><tspan x="0" y="9.2">Division</tspan></text></g>
<g id="h12"><rect class="gb" x="829" y="806" width="30" height="87"/><text class="t" transform="translate(844 849.5) rotate(-90)"><tspan x="0" y="-4.8">Biochemical</tspan><tspan x="0" y="2.2">Industry</tspan><tspan x="0" y="9.2">Division</tspan></text></g>
<g id="h13"><rect class="gb" x="866" y="806" width="27" height="87"/><text class="t" transform="translate(879.5 849.5) rotate(-90)"><tspan x="0" y="-4.8">Textile and</tspan><tspan x="0" y="2.2">Clothing</tspan><tspan x="0" y="9.2">Division</tspan></text></g>
<g id="h14"><rect class="gb" x="902" y="806" width="28" height="87"/><text class="t" transform="translate(916 849.5) rotate(-90)"><tspan x="0" y="-4.8">Ceramics and</tspan><tspan x="0" y="2.2">Construction</tspan><tspan x="0" y="9.2">Materials Div.</tspan></text></g>
<g id="h15"><rect class="gb" x="938" y="806" width="47" height="87"/><text class="t" transform="translate(961.5 849.5) rotate(-90)"><tspan x="0" y="-8.3">Housing Industry,</tspan><tspan x="0" y="-1.3">Building Materials</tspan><tspan x="0" y="5.7">and Consumer</tspan><tspan x="0" y="12.7">Products Division</tspan></text></g>

<g id="i1"><rect class="gb" x="405" y="907" width="27" height="88"/><text class="t" transform="translate(418.5 951) rotate(-90)"><tspan x="0" y="-1.3">Deputy</tspan><tspan x="0" y="5.7">Director-General</tspan></text></g>
<g id="i2"><rect class="gb" x="444" y="907" width="28" height="88"/><text class="t" transform="translate(458 951) rotate(-90)"><tspan x="0" y="-1.3">Counsellor</tspan><tspan x="0" y="5.7">(Environment)</tspan></text></g>
<g id="i3"><rect class="gb" x="501" y="907" width="32" height="98"/><text class="t" transform="translate(517 956) rotate(-90)"><tspan x="0" y="-1.3">General Affairs</tspan><tspan x="0" y="5.7">Division</tspan></text></g>
<g id="i4"><rect class="gb" x="539" y="907" width="29" height="98"/><text class="t" transform="translate(553.5 956) rotate(-90)"><tspan x="0" y="-4.8">Industrial Science</tspan><tspan x="0" y="2.2">and Technology</tspan><tspan x="0" y="9.2">Policy Division</tspan></text></g>
<g id="i5"><rect class="gb" x="573" y="907" width="30" height="98"/><text class="t" transform="translate(588 956) rotate(-90)"><tspan x="0" y="-4.8">Technology</tspan><tspan x="0" y="2.2">Evaluation</tspan><tspan x="0" y="9.2">Division</tspan></text></g>
<g id="i6"><rect class="gb" x="609" y="907" width="29" height="98"/><text class="t" transform="translate(623.5 956) rotate(-90)"><tspan x="0" y="-4.8">Research and</tspan><tspan x="0" y="2.2">Development</tspan><tspan x="0" y="9.2">Division</tspan></text></g>
<g id="i7"><rect class="gb" x="643" y="907" width="32" height="98"/><text class="t" transform="translate(659 956) rotate(-90)"><tspan x="0" y="-4.8">University-Industry</tspan><tspan x="0" y="2.2">Collaboration</tspan><tspan x="0" y="9.2">Division</tspan></text></g>
<g id="i8"><rect class="gb" x="680" y="907" width="41" height="98"/><text class="t" transform="translate(700.5 956) rotate(-90)"><tspan x="0" y="-8.3">Industrial</tspan><tspan x="0" y="-1.3">Science and</tspan><tspan x="0" y="5.7">Technology</tspan><tspan x="0" y="12.7">Environment Div.</tspan></text></g>
<g id="i9"><rect class="gb" x="760" y="907" width="33" height="98"/><text class="t" transform="translate(776.5 956) rotate(-90)"><tspan x="0" y="-4.8">Environmental</tspan><tspan x="0" y="2.2">Policy</tspan><tspan x="0" y="9.2">Division</tspan></text></g>
<g id="i10"><rect class="gb" x="795" y="907" width="31" height="98"/><text class="t" transform="translate(810.5 956) rotate(-90)"><tspan x="0" y="-4.8">Recycling</tspan><tspan x="0" y="2.2">Promotion</tspan><tspan x="0" y="9.2">Division</tspan></text></g>
<g id="i11"><rect class="gb" x="831" y="907" width="29" height="98"/><text class="t" transform="translate(845.5 956) rotate(-90)"><tspan x="0" y="-4.8">Global</tspan><tspan x="0" y="2.2">Environment</tspan><tspan x="0" y="9.2">Affairs Office</tspan></text></g>
<g id="i12"><rect class="gb" x="867" y="907" width="26" height="98"/><text class="t" transform="translate(880 956) rotate(-90)"><tspan x="0" y="-4.8">Standards</tspan><tspan x="0" y="2.2">and Conformity</tspan><tspan x="0" y="9.2">Division</tspan></text></g>

<g id="j1"><rect class="gb" x="403" y="1022" width="28" height="76"/><text class="t" transform="translate(417 1060) rotate(-90)"><tspan x="0" y="-1.3">Deputy</tspan><tspan x="0" y="5.7">Director-General</tspan></text></g>
<g id="j2"><rect class="gb" x="443" y="1022" width="27" height="76"/><text class="t" transform="translate(456.5 1060) rotate(-90)"><tspan x="0" y="-1.3">Counsellor</tspan><tspan x="0" y="5.7">(Trade)</tspan></text></g>
<g id="j3"><rect class="gb" x="498" y="1022" width="36" height="83"/><text class="t" transform="translate(516 1063.5) rotate(-90)"><tspan x="0" y="-4.8">Trade and Economic</tspan><tspan x="0" y="2.2">Cooperation Policy</tspan><tspan x="0" y="9.2">Division</tspan></text></g>
<g id="j4"><rect class="gb" x="540" y="1022" width="29" height="83"/><text class="t" transform="translate(554.5 1063.5) rotate(-90)"><tspan x="0" y="-4.8">Trade Finance</tspan><tspan x="0" y="2.2">and Economic</tspan><tspan x="0" y="9.2">Cooperation Div.</tspan></text></g>
<g id="j5"><rect class="gb" x="582" y="1022" width="27" height="83"/><text class="t" transform="translate(595.5 1063.5) rotate(-90)"><tspan x="0" y="-1.3">Trade Promotion</tspan><tspan x="0" y="5.7">Division</tspan></text></g>
<g id="j6"><rect class="gb" x="617" y="1022" width="27" height="83"/><text class="t" transform="translate(630.5 1063.5) rotate(-90)"><tspan x="0" y="-4.8">Technical</tspan><tspan x="0" y="2.2">Cooperation</tspan><tspan x="0" y="9.2">Division</tspan></text></g>
<g id="j7"><rect class="gb" x="652" y="1022" width="27" height="83"/><text class="t" transform="translate(665.5 1063.5) rotate(-90)"><tspan x="0" y="-1.3">Trade Insurance</tspan><tspan x="0" y="5.7">Division</tspan></text></g>
<g id="jd"><rect class="gb" x="736" y="1040" width="29" height="76"/><text class="t" transform="translate(750.5 1078) rotate(-90)"><tspan x="0" y="-1.3">Trade Control</tspan><tspan x="0" y="5.7">Department</tspan></text></g>
<g id="j8"><rect class="gb" x="773" y="1022" width="29" height="71"/><text class="t" transform="translate(787.5 1057.5) rotate(-90)"><tspan x="0" y="-1.3">Director-General</tspan><tspan x="0" y="5.7">(Trade Control)</tspan></text></g>
<g id="j9"><rect class="gb" x="825" y="1022" width="29" height="83"/><text class="t" transform="translate(839.5 1063.5) rotate(-90)"><tspan x="0" y="-4.8">Trade Control</tspan><tspan x="0" y="2.2">Policy</tspan><tspan x="0" y="9.2">Division</tspan></text></g>
<g id="j10"><rect class="gb" x="861" y="1022" width="29" height="83"/><text class="t" transform="translate(875.5 1063.5) rotate(-90)"><tspan x="0" y="-1.3">Trade Licensing</tspan><tspan x="0" y="5.7">Division</tspan></text></g>
<g id="j11"><rect class="gb" x="897" y="1022" width="28" height="83"/><text class="t" transform="translate(911 1063.5) rotate(-90)"><tspan x="0" y="-4.8">Security Export</tspan><tspan x="0" y="2.2">Control Policy</tspan><tspan x="0" y="9.2">Division</tspan></text></g>
<g id="j12"><rect class="gb" x="933" y="1022" width="27" height="83"/><text class="t" transform="translate(946.5 1063.5) rotate(-90)"><tspan x="0" y="-4.8">Security Export</tspan><tspan x="0" y="2.2">Licensing</tspan><tspan x="0" y="9.2">Division</tspan></text></g>

<g id="k1"><rect class="gb" x="403" y="1135" width="28" height="70"/><text class="t" transform="translate(417 1170) rotate(-90)"><tspan x="0" y="-1.3">Deputy</tspan><tspan x="0" y="5.7">Director-General</tspan></text></g>
<g id="k2"><rect class="gb" x="443" y="1135" width="28" height="70"/><text class="t" transform="translate(457 1170) rotate(-90)"><tspan x="0" y="-1.3">Counsellor</tspan><tspan x="0" y="5.7">(Trade Policy)</tspan></text></g>
<g id="k3"><rect class="gb" x="502" y="1135" width="28" height="83"/><text class="t" transform="translate(516 1176.5) rotate(-90)"><tspan x="0" y="-1.3">Trade Policy</tspan><tspan x="0" y="5.7">Division</tspan></text></g>
<g id="k4"><rect class="gb" x="539" y="1135" width="26" height="83"/><text class="t" transform="translate(552 1176.5) rotate(-90)"><tspan x="0" y="-4.8">Economic</tspan><tspan x="0" y="2.2">Partnership</tspan><tspan x="0" y="9.2">Division</tspan></text></g>
<g id="k5"><rect class="gb" x="573" y="1135" width="27" height="83"/><text class="t" transform="translate(586.5 1176.5) rotate(-90)"><tspan x="0" y="-1.3">Americas</tspan><tspan x="0" y="5.7">Division</tspan></text></g>
<g id="k6"><rect class="gb" x="609" y="1135" width="28" height="83"/><text class="t" transform="translate(623 1176.5) rotate(-90)"><tspan x="0" y="-4.8">Europe, Middle East</tspan><tspan x="0" y="2.2">and Africa</tspan><tspan x="0" y="9.2">Division</tspan></text></g>
<g id="k7"><rect class="gb" x="643" y="1135" width="29" height="83"/><text class="t" transform="translate(657.5 1176.5) rotate(-90)"><tspan x="0" y="-1.3">Asia and Pacific</tspan><tspan x="0" y="5.7">Division</tspan></text></g>
<g id="k8"><rect class="gb" x="680" y="1135" width="28" height="83"/><text class="t" transform="translate(694 1176.5) rotate(-90)"><tspan x="0" y="-4.8">Russia, Central</tspan><tspan x="0" y="2.2">Asia and Caucasus</tspan><tspan x="0" y="9.2">Division</tspan></text></g>
<g id="k9"><rect class="gb" x="716" y="1135" width="28" height="83"/><text class="t" transform="translate(730 1176.5) rotate(-90)"><tspan x="0" y="-4.8">Research and</tspan><tspan x="0" y="2.2">Analysis</tspan><tspan x="0" y="9.2">Division</tspan></text></g>
<g id="kd"><rect class="gb" x="809" y="1119" width="28" height="103"/><text class="t" transform="translate(823 1170.5) rotate(-90)"><tspan x="0" y="-1.3">Multilateral Trade</tspan><tspan x="0" y="5.7">System Department</tspan></text></g>
<g id="k10"><rect class="gb" x="844" y="1121" width="28" height="76"/><text class="t" transform="translate(858 1159) rotate(-90)"><tspan x="0" y="-1.3">Director-General</tspan><tspan x="0" y="5.7">(Multilateral Trade)</tspan></text></g>
<g id="k11"><rect class="gb" x="897" y="1121" width="28" height="89"/><text class="t" transform="translate(911 1165.5) rotate(-90)"><tspan x="0" y="2.2">Director (3)</tspan></text></g>

<g id="l1"><rect class="gb" x="403" y="1240" width="37" height="70"/><text class="t" transform="translate(421.5 1275) rotate(-90)"><tspan x="0" y="-4.8">Deputy Director-</tspan><tspan x="0" y="2.2">General for</tspan><tspan x="0" y="9.2">Regional Policy</tspan></text></g>
<g id="l2"><rect class="gb" x="501" y="1240" width="30" height="82"/><text class="t" transform="translate(516 1281) rotate(-90)"><tspan x="0" y="-4.8">Regional Economic</tspan><tspan x="0" y="2.2">and Industrial</tspan><tspan x="0" y="9.2">Policy Division</tspan></text></g>
<g id="l3"><rect class="gb" x="536" y="1240" width="30" height="82"/><text class="t" transform="translate(551 1281) rotate(-90)"><tspan x="0" y="-4.8">Regional</tspan><tspan x="0" y="2.2">Technology</tspan><tspan x="0" y="9.2">Division</tspan></text></g>
<g id="l4"><rect class="gb" x="573" y="1240" width="29" height="82"/><text class="t" transform="translate(587.5 1281) rotate(-90)"><tspan x="0" y="-4.8">Industrial Location</tspan><tspan x="0" y="2.2">and Environment</tspan><tspan x="0" y="9.2">Division</tspan></text></g>
<g id="l5"><rect class="gb" x="607" y="1240" width="31" height="82"/><text class="t" transform="translate(622.5 1281) rotate(-90)"><tspan x="0" y="-4.8">Regional</tspan><tspan x="0" y="2.2">Economy</tspan><tspan x="0" y="9.2">Division</tspan></text></g>

<g id="m1"><rect class="gb" x="403" y="1337" width="28" height="75"/><text class="t" transform="translate(417 1374.5) rotate(-90)"><tspan x="0" y="-1.3">Deputy</tspan><tspan x="0" y="5.7">Director-General</tspan></text></g>
<g id="m2"><rect class="gb" x="443" y="1337" width="28" height="75"/><text class="t" transform="translate(457 1374.5) rotate(-90)"><tspan x="0" y="-1.3">Counsellor</tspan><tspan x="0" y="5.7">(Economic Policy)</tspan></text></g>
<g id="m3"><rect class="gb" x="502" y="1337" width="28" height="88"/><text class="t" transform="translate(516 1381) rotate(-90)"><tspan x="0" y="-1.3">General Affairs</tspan><tspan x="0" y="5.7">Division</tspan></text></g>
<g id="m4"><rect class="gb" x="539" y="1337" width="27" height="88"/><text class="t" transform="translate(552.5 1381) rotate(-90)"><tspan x="0" y="-4.8">Economic and</tspan><tspan x="0" y="2.2">Industrial Policy</tspan><tspan x="0" y="9.2">Division</tspan></text></g>
<g id="m5"><rect class="gb" x="573" y="1337" width="29" height="88"/><text class="t" transform="translate(587.5 1381) rotate(-90)"><tspan x="0" y="-4.8">Industrial</tspan><tspan x="0" y="2.2">Structure</tspan><tspan x="0" y="9.2">Division</tspan></text></g>
<g id="m6"><rect class="gb" x="609" y="1337" width="28" height="88"/><text class="t" transform="translate(623 1381) rotate(-90)"><tspan x="0" y="-4.8">Industrial</tspan><tspan x="0" y="2.2">Revitalization</tspan><tspan x="0" y="9.2">Division</tspan></text></g>
<g id="m7"><rect class="gb" x="644" y="1337" width="28" height="88"/><text class="t" transform="translate(658 1381) rotate(-90)"><tspan x="0" y="-4.8">Industrial</tspan><tspan x="0" y="2.2">Finance</tspan><tspan x="0" y="9.2">Division</tspan></text></g>
<g id="m8"><rect class="gb" x="680" y="1337" width="28" height="88"/><text class="t" transform="translate(694 1381) rotate(-90)"><tspan x="0" y="-4.8">Competition</tspan><tspan x="0" y="2.2">Environment</tspan><tspan x="0" y="9.2">Division</tspan></text></g>
<g id="m9"><rect class="gb" x="716" y="1337" width="28" height="88"/><text class="t" transform="translate(730 1381) rotate(-90)"><tspan x="0" y="-4.8">Intellectual</tspan><tspan x="0" y="2.2">Property Policy</tspan><tspan x="0" y="9.2">Office</tspan></text></g>
<g id="m10"><rect class="gb" x="753" y="1337" width="27" height="88"/><text class="t" transform="translate(766.5 1381) rotate(-90)"><tspan x="0" y="2.2">Director (1)</tspan></text></g>
<g id="md"><rect class="gb" x="809" y="1322" width="28" height="106"/><text class="t" transform="translate(823 1375) rotate(-90)"><tspan x="0" y="-4.8">Research and</tspan><tspan x="0" y="2.2">Statistics</tspan><tspan x="0" y="9.2">Department</tspan></text></g>
<g id="m11"><rect class="gb" x="844" y="1340" width="28" height="65"/><text class="t" transform="translate(858 1372.5) rotate(-90)"><tspan x="0" y="-1.3">Director</tspan><tspan x="0" y="5.7">(Statistics)</tspan></text></g>
<g id="m12"><rect class="gb" x="897" y="1340" width="28" height="78"/><text class="t" transform="translate(911 1379) rotate(-90)"><tspan x="0" y="2.2">Director (4)</tspan></text></g>

<g id="ms1"><rect class="gb" x="403" y="1452" width="28" height="68"/><text class="t" transform="translate(417 1486) rotate(-90)"><tspan x="0" y="-1.3">Deputy</tspan><tspan x="0" y="5.7">Director-General</tspan></text></g>
<g id="ms2"><rect class="gb" x="443" y="1452" width="28" height="68"/><text class="t" transform="translate(457 1486) rotate(-90)"><tspan x="0" y="2.2">Counsellors</tspan></text></g>
<g id="ms3"><rect class="gb" x="481" y="1452" width="43" height="68"/><text class="t" transform="translate(502.5 1486) rotate(-90)"><tspan x="0" y="-8.3">Director-General</tspan><tspan x="0" y="-1.3">for Policy</tspan><tspan x="0" y="5.7">Evaluation and</tspan><tspan x="0" y="12.7">Public Relations</tspan></text></g>
<g id="ms4"><rect class="gb" x="533" y="1452" width="27" height="68"/><text class="t" transform="translate(546.5 1486) rotate(-90)"><tspan x="0" y="-1.3">Chief Information</tspan><tspan x="0" y="5.7">Officer</tspan></text></g>
<g id="ms5"><rect class="gb" x="573" y="1452" width="27" height="68"/><text class="t" transform="translate(586.5 1486) rotate(-90)"><tspan x="0" y="2.2">Director (6)</tspan></text></g>
<g id="ms6"><rect class="gb" x="616" y="1452" width="32" height="78"/><text class="t" transform="translate(632 1491) rotate(-90)"><tspan x="0" y="-1.3">Secretarial</tspan><tspan x="0" y="5.7">Division</tspan></text></g>
<g id="ms7"><rect class="gb" x="655" y="1452" width="33" height="78"/><text class="t" transform="translate(671.5 1491) rotate(-90)"><tspan x="0" y="-4.8">General</tspan><tspan x="0" y="2.2">Coordination</tspan><tspan x="0" y="9.2">Division</tspan></text></g>
<g id="ms8"><rect class="gb" x="693" y="1452" width="31" height="78"/><text class="t" transform="translate(708.5 1491) rotate(-90)"><tspan x="0" y="-1.3">Personnel</tspan><tspan x="0" y="5.7">Division</tspan></text></g>
<g id="ms9"><rect class="gb" x="728" y="1452" width="30" height="78"/><text class="t" transform="translate(743 1491) rotate(-90)"><tspan x="0" y="-4.8">Budget and</tspan><tspan x="0" y="2.2">Accounts</tspan><tspan x="0" y="9.2">Division</tspan></text></g>
<g id="ms10"><rect class="gb" x="764" y="1452" width="32" height="78"/><text class="t" transform="translate(780 1491) rotate(-90)"><tspan x="0" y="-4.8">Policy Evaluation</tspan><tspan x="0" y="2.2">and Public</tspan><tspan x="0" y="9.2">Relations Div.</tspan></text></g>

</g>
</svg>
